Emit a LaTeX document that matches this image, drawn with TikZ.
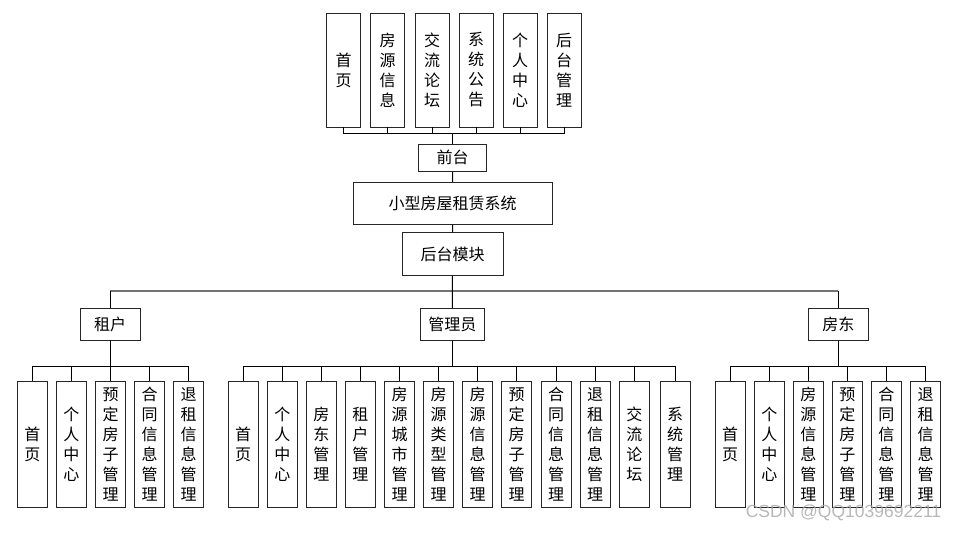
\documentclass[tikz,border=0pt]{standalone}
\usepackage{fontspec}
\setmainfont{Noto Sans CJK SC}
\newfontfamily\markfont{Liberation Sans}
\usepackage{tikz}
\usetikzlibrary{positioning}
\tikzstyle{box}=[draw=black!85,fill=white,line width=0.9pt,inner sep=0pt,align=center,font=\fontsize{16}{20}\selectfont]
\tikzstyle{topbox}=[box,minimum width=34pt,minimum height=114pt]
\tikzstyle{leaf}=[box,minimum width=30pt,minimum height=126pt]
\tikzstyle{role}=[box,minimum height=32pt]
\tikzstyle{gather}=[to path={-- ++(0,-10.3) -| (\tikztotarget)}]
\tikzstyle{branch}=[to path={-- ++(0,25.5) -| (\tikztotarget)}]
\def\shouye{首\\页}
\def\geren{个\\人\\中\\心}
\def\yuding{预\\定\\房\\子\\管\\理}
\def\hetong{合\\同\\信\\息\\管\\理}
\def\tuizu{退\\租\\信\\息\\管\\理}

\begin{document}
\begin{tikzpicture}[x=1pt,y=-1pt,line width=0.9pt]
      \useasboundingbox (0,0) rectangle (957,532);
      % front end
      \node [topbox] (t1) at (343.7,70) {\shouye};
      \node [topbox] (t2) at (387.5,70) {房\\源\\信\\息};
      \node [topbox] (t3) at (432,70) {交\\流\\论\\坛};
      \node [topbox] (t4) at (476,70) {系\\统\\公\\告};
      \node [topbox] (t5) at (520,70) {\geren};
      \node [topbox] (t6) at (564,70) {后\\台\\管\\理};
      \node [box, minimum width=67.6pt, minimum height=27pt] (front) at (452.5,157.8) {前台};
      \node [box, minimum width=198.7pt, minimum height=42pt] (sys) at (452.7,203.3) {小型房屋租赁系统};
      \node [box, minimum width=101pt, minimum height=42.6pt] (back) at (452.5,254) {后台模块};

      \path (front.north) edge [gather] (t1.south)
                          edge [gather] (t2.south)
                          edge [gather] (t3.south)
                          edge [gather] (t4.south)
                          edge [gather] (t5.south)
                          edge [gather] (t6.south);
      \path (front) edge (sys)
            (sys) edge (back);

      % roles
      \node [role, minimum width=60pt] (tenant) at (110.2,324) {租户};
      \node [role, minimum width=64pt] (admin) at (452.3,324.3) {管理员};
      \node [role, minimum width=60pt] (landlord) at (838.3,324.3) {房东};
      \coordinate (busL) at (110.2,291);
      \coordinate (busR) at (838.3,291);
      \draw [black!55, line width=1.5pt] (busL) -- (busR);
      \path (busL) edge (tenant)
            (busR) edge (landlord)
            (back) edge (admin);

      % tenant
      \node [leaf] (a1) at (32.3,444.5) {\shouye};
      \node [leaf] (a2) at (71.3,444.5) {\geren};
      \node [leaf] (a3) at (110.7,444.5) {\yuding};
      \node [leaf] (a4) at (149.7,444.5) {\hetong};
      \node [leaf] (a5) at (188.7,444.5) {\tuizu};
      \path (tenant.south) edge [branch] (a1.north) edge [branch] (a2.north)
                           edge [branch] (a3.north) edge [branch] (a4.north)
                           edge [branch] (a5.north);

      % admin
      \node [leaf] (b1) at (243.2,444.5) {\shouye};
      \node [leaf] (b2) at (282.3,444.5) {\geren};
      \node [leaf] (b3) at (321.3,444.5) {房\\东\\管\\理};
      \node [leaf] (b4) at (360.3,444.5) {租\\户\\管\\理};
      \node [leaf] (b5) at (399.5,444.5) {房\\源\\城\\市\\管\\理};
      \node [leaf] (b6) at (438.7,444.5) {房\\源\\类\\型\\管\\理};
      \node [leaf] (b7) at (477.7,444.5) {房\\源\\信\\息\\管\\理};
      \node [leaf] (b8) at (516.7,444.5) {\yuding};
      \node [leaf] (b9) at (556,444.5) {\hetong};
      \node [leaf] (b10) at (595,444.5) {\tuizu};
      \node [leaf] (b11) at (634.3,444.5) {交\\流\\论\\坛};
      \node [leaf] (b12) at (675,444.5) {系\\统\\管\\理};
      \path (admin.south) edge [branch] (b1.north) edge [branch] (b2.north)
                          edge [branch] (b3.north) edge [branch] (b4.north)
                          edge [branch] (b5.north) edge [branch] (b6.north)
                          edge [branch] (b7.north) edge [branch] (b8.north)
                          edge [branch] (b9.north) edge [branch] (b10.north)
                          edge [branch] (b11.north) edge [branch] (b12.north);

      % landlord
      \node [leaf] (c1) at (730,444.5) {\shouye};
      \node [leaf] (c2) at (769.3,444.5) {\geren};
      \node [leaf] (c3) at (808.3,444.5) {房\\源\\信\\息\\管\\理};
      \node [leaf] (c4) at (847.3,444.5) {\yuding};
      \node [leaf] (c5) at (886.3,444.5) {\hetong};
      \node [leaf] (c6) at (925.7,444.5) {\tuizu};
      \path (landlord.south) edge [branch] (c1.north) edge [branch] (c2.north)
                             edge [branch] (c3.north) edge [branch] (c4.north)
                             edge [branch] (c5.north) edge [branch] (c6.north);

      \node [text=black!35, opacity=0.8, font=\markfont\fontsize{17.5}{18}\selectfont] (mark) at (843.5,513) {CSDN @QQ1039692211};
\end{tikzpicture}
\end{document}
